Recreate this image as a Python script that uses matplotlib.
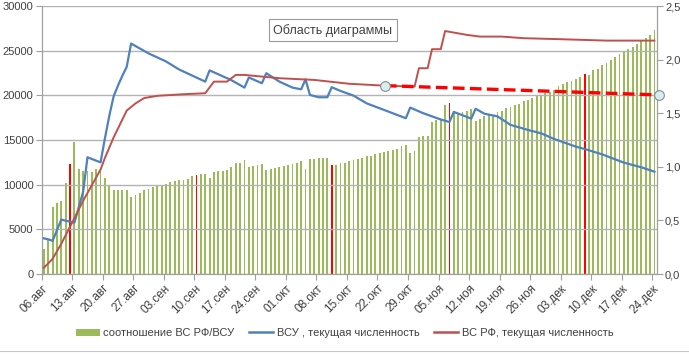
import matplotlib
matplotlib.use('Agg')
import matplotlib.pyplot as plt
from matplotlib.patches import Patch
from matplotlib.lines import Line2D

plt.rcParams['font.family'] = ['Liberation Sans', 'DejaVu Sans']

# x axis: one bar per day, 06.авг .. 24.дек, a label every 7 days
tick_labels = ['06.авг', '13.авг', '20.авг', '27.авг', '03.сен', '10.сен', '17.сен',
               '24.сен', '01.окт', '08.окт', '15.окт', '22.окт', '29.окт', '05.ноя',
               '12.ноя', '19.ноя', '26.ноя', '03.дек', '10.дек', '17.дек', '24.дек']

# соотношение ВС РФ/ВСУ, daily (right axis)
ratio = [0.23, 0.33, 0.63, 0.66, 0.68, 0.85, 1.03, 1.23, 0.98, 0.96,
         0.96, 0.95, 0.98, 0.99, 0.90, 0.83, 0.78, 0.78, 0.78, 0.78,
         0.72, 0.74, 0.76, 0.78, 0.79, 0.81, 0.82, 0.83, 0.84, 0.86,
         0.87, 0.88, 0.88, 0.89, 0.91, 0.92, 0.93, 0.93, 0.90, 0.95,
         0.96, 0.96, 0.97, 1.00, 1.04, 1.04, 1.06, 1.00, 1.01, 1.02,
         1.03, 0.97, 0.98, 0.99, 1.00, 1.01, 1.02, 1.03, 1.04, 1.05,
         0.98, 1.07, 1.07, 1.08, 1.08, 1.08, 1.02, 1.02, 1.04, 1.04,
         1.05, 1.06, 1.07, 1.08, 1.10, 1.10, 1.12, 1.13, 1.14, 1.15,
         1.16, 1.17, 1.19, 1.20, 1.13, 1.15, 1.28, 1.29, 1.29, 1.42,
         1.44, 1.44, 1.58, 1.60, 1.52, 1.50, 1.51, 1.52, 1.54, 1.43,
         1.45, 1.47, 1.48, 1.48, 1.51, 1.52, 1.55, 1.56, 1.58, 1.59,
         1.61, 1.62, 1.64, 1.66, 1.67, 1.69, 1.70, 1.72, 1.75, 1.77,
         1.79, 1.80, 1.82, 1.84, 1.87, 1.86, 1.90, 1.91, 1.95, 1.97,
         2.00, 2.02, 2.05, 2.08, 2.10, 2.12, 2.15, 2.17, 2.20, 2.23,
         2.28]
red_days = [6, 35, 66, 93, 124]

# ВСУ, текущая численность (left axis)
vsu_day = [0, 1, 2, 4, 5, 7, 9, 10, 13, 14, 15, 16, 17, 18, 19, 20, 24, 28, 31,
           37, 38, 43, 46, 47, 50, 51, 54, 57, 59, 60, 61, 63, 65, 66, 68, 71,
           74, 80, 83, 84, 87, 91, 93, 94, 98, 99, 101, 104, 107, 111, 114, 117,
           122, 124, 128, 133, 137, 140]
vsu_val = [4000, 3890, 3720, 6100, 5970, 5750, 9200, 13070, 12500, 15200, 17700,
           19900, 21100, 22200, 23200, 25800, 24700, 23800, 22900, 21540, 22800,
           21700, 20870, 22000, 21360, 22480, 21540, 20870, 20680, 21800, 20050,
           19790, 19790, 20910, 20500, 19970, 19110, 18000, 17440, 18630, 18000,
           17300, 17020, 18150, 17400, 18500, 17950, 17650, 16700, 16130, 15760,
           15120, 14260, 14000, 13400, 12470, 11950, 11460]

# ВС РФ, текущая численность (left axis)
rf_day = [0, 2, 4, 6, 9, 13, 14, 16, 19, 21, 23, 26, 32, 37, 39, 42, 44, 46, 54,
          62, 70, 78, 85, 86, 88, 89, 91, 92, 94, 97, 100, 105, 110, 119, 129, 140]
rf_val = [700, 1700, 3400, 5300, 8200, 11700, 13000, 15300, 18300, 19100, 19700,
          19950, 20130, 20240, 21540, 21540, 22290, 22290, 21920, 21730, 21300,
          21090, 20980, 23040, 23040, 25170, 25170, 27200, 27030, 26770, 26580,
          26580, 26400, 26280, 26130, 26130]

# red dashed trend between two marked points
trend_day = [78.2, 141.0]
trend_val = [21090, 20050]

GREEN = '#9BBB59'
BLUE = '#4F81BD'
RED = '#C0504D'
GRID = '#B3B3B3'
TXT = '#404040'

fig = plt.figure(figsize=(6.89, 3.55), dpi=100)
ax = fig.add_axes([0.0605, 0.228, 0.8925, 0.755])
ax2 = ax.twinx()

# bars on the ratio axis, lines on the headcount axis drawn above
days = [i + 0.5 for i in range(len(ratio))]
colors = [('#FF0000' if i in red_days else GREEN) for i in range(len(ratio))]
ax2.bar(days, ratio, width=0.42, color=colors, linewidth=0)
ax2.set_ylim(0, 2.5)
ax2.set_yticks([0, 0.5, 1.0, 1.5, 2.0, 2.5])
ax2.set_yticklabels(['0,0', '0,5', '1,0', '1,5', '2,0', '2,5'])

ax.set_zorder(ax2.get_zorder() + 1)
ax.patch.set_visible(False)

ax.plot([d + 0.5 for d in vsu_day], vsu_val, color=BLUE, lw=1.6, zorder=3)
ax.plot([d + 0.5 for d in rf_day], rf_val, color=RED, lw=1.4, zorder=3)
ax.plot([d + 0.5 for d in trend_day], trend_val, color='#FF0000', lw=2.4,
        ls=(0, (3.5, 1.6)), zorder=4)
ax.plot([d + 0.5 for d in trend_day], trend_val, ls='none', marker='o', ms=7,
        mfc='#D6EEF2', mec='#8C8C8C', mew=0.8, zorder=5, clip_on=False)

ax.set_xlim(0, 141)
ax.set_ylim(0, 30000)
ax.set_yticks(range(0, 30001, 5000))
ax.yaxis.grid(True, color=GRID, lw=1.0, zorder=1)
ax.set_axisbelow(True)
ax.set_xticks(range(0, 141, 7))
ax.set_xticklabels(tick_labels, rotation=45, ha='right', rotation_mode='anchor')

for a in (ax, ax2):
    for s in a.spines.values():
        s.set_color('#A0A0A0')
    a.spines['top'].set_visible(False)
    a.tick_params(colors='#A0A0A0', labelcolor=TXT, labelsize=8, length=4,
                  width=0.8, pad=2)
ax.tick_params(axis='x', labelsize=8.5)

fig.text(0.483, 0.915, 'Область диаграммы', ha='center', va='center',
         fontsize=9, color=TXT,
         bbox=dict(boxstyle='square,pad=0.35', fc='white', ec='#9A9A9A', lw=0.8))

handles = [Patch(facecolor=GREEN, edgecolor='none'),
           Line2D([], [], color=BLUE, lw=1.8),
           Line2D([], [], color=RED, lw=1.8)]
labels = ['соотношение ВС РФ/ВСУ', 'ВСУ , текущая численность',
          'ВС РФ, текущая численность']
fig.legend(handles, labels, loc='center', bbox_to_anchor=(0.5, 0.062), ncol=3,
           frameon=False, fontsize=8, handlelength=2.2, handleheight=0.6,
           handletextpad=0.3, columnspacing=1.3, labelcolor=TXT)

fig.add_artist(Line2D([0, 1], [0.01, 0.01], color='#C8C8C8', lw=0.8))

fig.savefig('out.png', dpi=100)
